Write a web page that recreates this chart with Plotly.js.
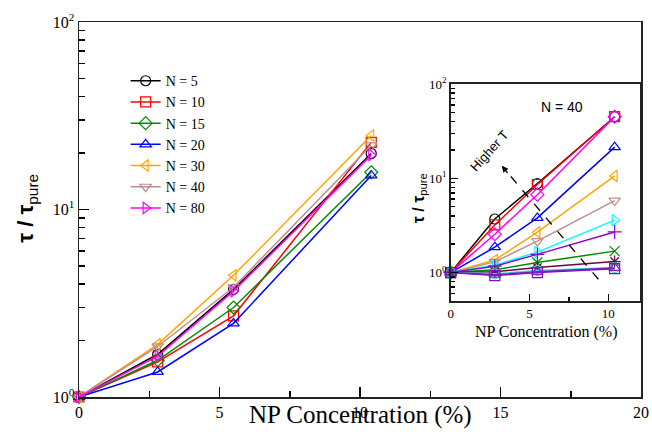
<!DOCTYPE html>
<html>
<head>
<meta charset="utf-8">
<script src="https://cdn.plot.ly/plotly-3.0.1.min.js"></script>
<style>html,body{margin:0;padding:0;background:#fff;}#chart{width:652px;height:434px;}</style>
</head>
<body>
<div id="chart"></div>
<script>
// ---- Main panel data (tau / tau_pure vs NP concentration, several chain lengths N)
const conc = [0, 2.8, 5.5, 10.4];
const mainLabels = ['N = 5', 'N = 10', 'N = 15', 'N = 20', 'N = 30', 'N = 40', 'N = 80'];
const mainN5  = [1, 1.69, 3.75, 19.9];
const mainN10 = [1, 1.54, 2.71, 22.8];
const mainN15 = [1, 1.57, 3.00, 15.8];
const mainN20 = [1, 1.36, 2.47, 15.2];
const mainN30 = [1, 1.91, 4.46, 24.8];
const mainN40 = [1, 1.86, 3.85, 22.0];
const mainN80 = [1, 1.65, 3.67, 19.5];

// ---- Inset data (N = 40, several temperatures)
const insetT1  = [1, 3.70, 8.80, 45.0];
const insetT2  = [1, 3.20, 8.60, 45.0];
const insetT3  = [1, 2.55, 6.70, 45.0];
const insetT4  = [1, 1.86, 3.80, 21.4];
const insetT5  = [1, 1.36, 2.68, 10.6];
const insetT6  = [1, 1.30, 2.16, 5.8];
const insetT7  = [1, 1.20, 1.65, 3.6];
const insetT8  = [1, 1.17, 1.56, 2.7];
const insetT9  = [1, 1.07, 1.28, 1.69];
const insetT10 = [1, 1.02, 1.13, 1.31];
const insetT11 = [1, 0.97, 1.05, 1.13];
const insetT12 = [1, 0.93, 1.00, 1.10];
const insetT13 = [1, 0.95, 1.02, 1.12];

const yTickVals = [1, 10, 100];
const yTickText = ['10<sup>0</sup>', '10<sup>1</sup>', '10<sup>2</sup>'];

const mainSeries = [mainN5, mainN10, mainN15, mainN20, mainN30, mainN40, mainN80];
const mainColors = ['#000000', '#ff0000', '#008b00', '#0000ff', '#ffa500', '#bc8f8f', '#ff00ff'];
const mainSymbols = ['circle-open', 'square-open', 'diamond-open', 'triangle-up-open',
                     'triangle-left-open', 'triangle-down-open', 'triangle-right-open'];

const insetSeries = [insetT1, insetT2, insetT3, insetT4, insetT5, insetT6, insetT7,
                     insetT8, insetT9, insetT10, insetT11, insetT12, insetT13];
const insetColors = ['#000000', '#ff0000', '#ff00ff', '#0000ff', '#ffa500', '#bc8f8f', '#00ffff',
                     '#9400d3', '#008b00', '#670748', '#40e0d0', '#9400d3', '#7221bc'];
const insetSymbols = ['circle-open', 'square-open', 'diamond-open', 'triangle-up-open',
                      'triangle-left-open', 'triangle-down-open', 'triangle-right-open',
                      'cross-thin-open', 'x-thin-open', 'asterisk-open', 'circle-open',
                      'square-open', 'triangle-up-open'];

const traces = [];
mainSeries.forEach((ys, i) => {
  traces.push({
    x: conc, y: ys, name: mainLabels[i], type: 'scatter', mode: 'lines+markers',
    xaxis: 'x', yaxis: 'y', cliponaxis: false,
    line: {color: mainColors[i], width: 1.5},
    marker: {symbol: mainSymbols[i], size: 10, color: mainColors[i], line: {width: 1.2, color: mainColors[i]}}
  });
});
insetSeries.forEach((ys, i) => {
  traces.push({
    x: conc, y: ys, type: 'scatter', mode: 'lines+markers', showlegend: false,
    xaxis: 'x2', yaxis: 'y2', cliponaxis: false,
    line: {color: insetColors[i], width: 1.5},
    marker: {symbol: insetSymbols[i], size: 10, color: insetColors[i], line: {width: 1.2, color: insetColors[i]}}
  });
});

const serif = 'Liberation Serif, Times New Roman, serif';
const sans = 'Liberation Sans, Arial, sans-serif';
const axLine = '#222222';
const tickCol = '#000000';
const insetYRange = [Math.log10(0.5), 2];

const layout = {
  width: 652, height: 434,
  margin: {l: 79, r: 11, t: 22, b: 37},
  paper_bgcolor: '#ffffff', plot_bgcolor: '#ffffff',
  showlegend: true,
  legend: {x: 0.083, y: 0.885, xanchor: 'left', yanchor: 'top', bgcolor: 'rgba(0,0,0,0)',
           font: {family: serif, size: 14, color: '#000'}, tracegroupgap: 0, itemwidth: 30},
  xaxis: {
    domain: [0, 1], range: [0, 20], tickmode: 'linear', tick0: 0, dtick: 5,
    ticks: 'inside', ticklen: 10, tickwidth: 1.5, tickcolor: tickCol,
    minor: {dtick: 2.5, ticks: 'inside', ticklen: 6, tickwidth: 1.5, tickcolor: tickCol},
    showline: true, mirror: true, linecolor: axLine, linewidth: 1.5,
    showgrid: false, zeroline: false,
    tickfont: {family: serif, size: 16, color: '#000'}
  },
  yaxis: {
    domain: [0, 1], type: 'log', range: [0, 2], autorange: false,
    tickvals: yTickVals, ticktext: yTickText,
    ticks: 'inside', ticklen: 10, tickwidth: 1.5, tickcolor: tickCol,
    minor: {dtick: 'D1', ticks: 'inside', ticklen: 6, tickwidth: 1.5, tickcolor: tickCol},
    showline: true, mirror: true, linecolor: axLine, linewidth: 1.5,
    showgrid: false, zeroline: false,
    tickfont: {family: serif, size: 16, color: '#000'}
  },
  xaxis2: {
    anchor: 'y2', domain: [0.6613, 0.998], range: [0, 12], tickmode: 'linear', tick0: 0, dtick: 5,
    ticks: 'inside', ticklen: 7, tickwidth: 1.5, tickcolor: tickCol,
    minor: {dtick: 2.5, ticks: 'inside', ticklen: 4, tickwidth: 1.5, tickcolor: tickCol},
    showline: true, mirror: true, linecolor: axLine, linewidth: 1.5,
    showgrid: false, zeroline: false,
    tickfont: {family: serif, size: 13, color: '#000'}
  },
  yaxis2: {
    anchor: 'x2', domain: [0.256, 0.8347], type: 'log', range: insetYRange, autorange: false,
    tickvals: yTickVals, ticktext: yTickText,
    ticks: 'inside', ticklen: 7, tickwidth: 1.5, tickcolor: tickCol,
    minor: {dtick: 'D1', ticks: 'inside', ticklen: 4, tickwidth: 1.5, tickcolor: tickCol},
    showline: true, mirror: true, linecolor: axLine, linewidth: 1.5,
    showgrid: false, zeroline: false,
    tickfont: {family: serif, size: 13, color: '#000'}
  },
  shapes: [
    {type: 'line', xref: 'x2', yref: 'y2', x0: 9.37, y0: 0.85, x1: 3.3, y1: 13.2,
     line: {color: '#000', width: 1.3, dash: 'dash'}}
  ],
  annotations: [
    {text: 'NP Concentration (%)', xref: 'paper', yref: 'paper', x: 0.5, y: -0.047,
     xanchor: 'center', yanchor: 'middle', showarrow: false,
     font: {family: serif, size: 25, color: '#000'}},
    {text: '<b>τ / τ</b><sub>pure</sub>', xref: 'paper', yref: 'paper', x: -0.092, y: 0.503,
     xanchor: 'center', yanchor: 'middle', showarrow: false, textangle: -90,
     font: {family: sans, size: 22, color: '#000'}},
    {text: 'NP Concentration (%)', xref: 'paper', yref: 'paper', x: 0.831, y: 0.174,
     xanchor: 'center', yanchor: 'middle', showarrow: false,
     font: {family: serif, size: 16, color: '#000'}},
    {text: '<b>τ / τ</b><sub>pure</sub>', xref: 'paper', yref: 'paper', x: 0.605, y: 0.53,
     xanchor: 'center', yanchor: 'middle', showarrow: false, textangle: -90,
     font: {family: sans, size: 16, color: '#000'}},
    {text: 'N = 40', xref: 'x2', yref: 'y2', x: 7.06, y: 1.76,
     xanchor: 'center', yanchor: 'middle', showarrow: false,
     font: {family: sans, size: 14, color: '#000'}},
    {text: 'Higher T', xref: 'x2', yref: 'y2', x: 2.45, y: 1.30,
     xanchor: 'center', yanchor: 'middle', showarrow: false, textangle: -48,
     font: {family: sans, size: 13, color: '#000'}},
    {text: '', xref: 'x2', yref: 'y2', x: 3.24, y: 1.133, ax: 7, ay: 8.5,
     showarrow: true, arrowhead: 2, arrowsize: 1, arrowwidth: 1.3, arrowcolor: '#000'}
  ]
};

Plotly.newPlot('chart', traces, layout, {displayModeBar: false, staticPlot: true});
</script>
</body>
</html>
